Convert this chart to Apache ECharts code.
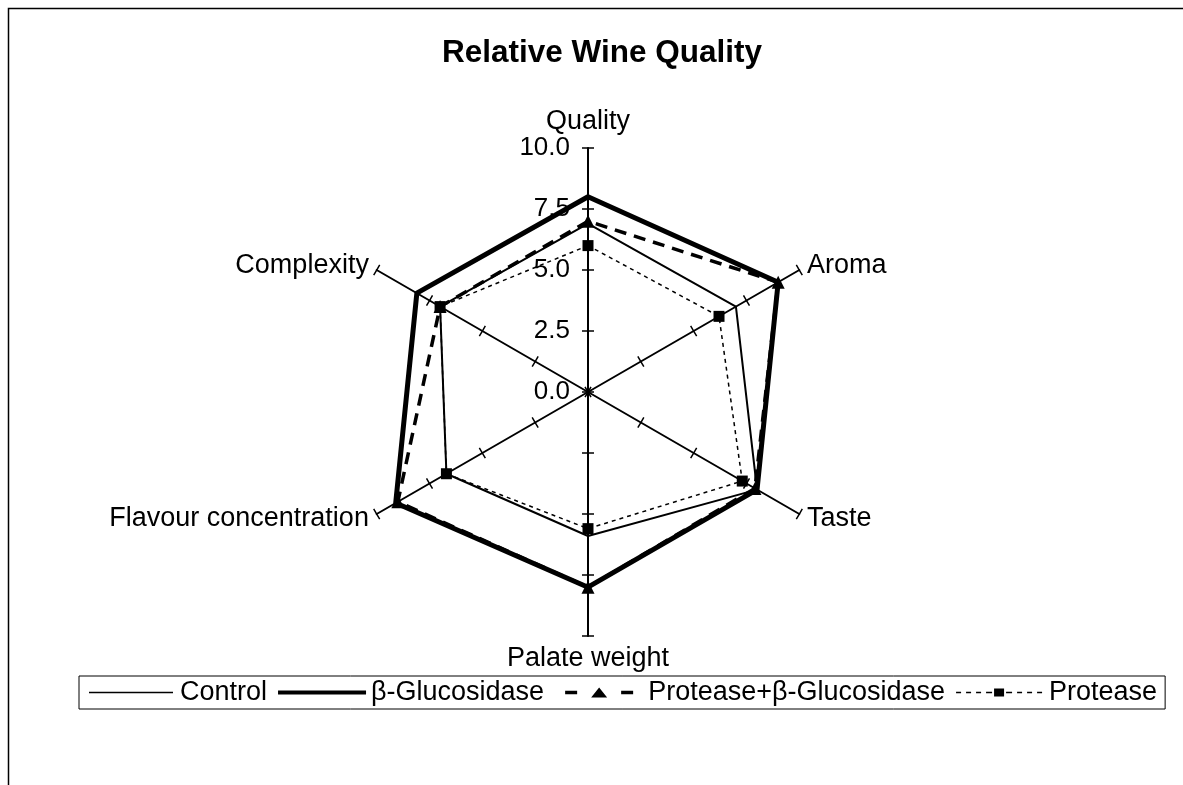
<!DOCTYPE html>
<html>
<head>
<meta charset="utf-8">
<script src="https://cdn.jsdelivr.net/npm/echarts@6/dist/echarts.min.js"></script>
<style>
  html, body { margin: 0; padding: 0; background: #fff; }
  #chart { width: 1183px; height: 785px; }
</style>
</head>
<body>
<div id="chart"></div>
<script>
// axes go counterclockwise from the top
var categories = ['Quality', 'Complexity', 'Flavour concentration', 'Palate weight', 'Taste', 'Aroma'];
var control = [6.9, 7.0, 6.7, 5.9, 8.0, 7.0];
var glucosidase = [8.0, 8.1, 9.1, 8.0, 8.0, 9.0];
var proteaseGlucosidase = [7.0, 7.0, 9.0, 8.0, 7.9, 9.0];
var protease = [6.0, 7.0, 6.7, 5.6, 7.3, 6.2];
var tickValues = [0, 2.5, 5, 7.5, 10];
var tickLabels = ['0.0', '2.5', '5.0', '7.5', '10.0'];

var font = 'Liberation Sans, Arial, sans-serif';
var myChart = echarts.init(document.getElementById('chart'));

// legend icons drawn in an 88x12 box (tiny corner specks fix the box size)
var box = 'M0,0h0.01v0.01h-0.01Z M88,12h-0.01v-0.01h0.01Z ';
var icons = {
  control: 'path://' + box + 'M2,5.3H86V6.7H2Z',
  gluc: 'path://' + box + 'M0,4H88V8H0Z',
  both: 'path://' + box + 'M10,4.3H22V7.7H10Z M36,11L44,1L52,11Z M66,4.3H78V7.7H66Z',
  prot: 'path://' + box + 'M0,5.2H5V6.8H0Z M10,5.2H15V6.8H10Z M20,5.2H25V6.8H20Z M30,5.2H36V6.8H30Z M38,2H48V10H38Z M50,5.2H56V6.8H50Z M61,5.2H66V6.8H61Z M71,5.2H76V6.8H71Z M81,5.2H86V6.8H81Z'
};

function indicators(withLabel) {
  return categories.map(function (c, i) {
    var o = { name: c, min: 0, max: 10 };
    if (withLabel && i === 0) o.axisLabel = { show: true };
    return o;
  });
}

var radarBase = {
  center: [588, 392],
  radius: 244,
  startAngle: 90,
  splitNumber: tickValues.length - 1,
  shape: 'polygon',
  splitLine: { show: false },
  splitArea: { show: false }
};

var option = {
  backgroundColor: '#fff',
  animation: false,
  title: {
    text: 'Relative Wine Quality',
    left: 442,
    top: 37,
    padding: 0,
    textStyle: { fontFamily: font, fontSize: 31.5, fontWeight: 'bold', color: '#000' }
  },
  legend: {
    left: 79,
    top: 676,
    padding: [3, 8],
    itemGap: 11,
    itemWidth: 88,
    itemHeight: 12,
    borderColor: '#000',
    borderWidth: 1,
    textStyle: { fontFamily: font, fontSize: 27, color: '#000' },
    itemStyle: { color: '#000', borderWidth: 0 },
    data: [
      { name: 'Control', icon: icons.control },
      { name: 'β-Glucosidase', icon: icons.gluc },
      { name: 'Protease+β-Glucosidase', icon: icons.both },
      { name: 'Protease', icon: icons.prot }
    ]
  },
  graphic: [{
    type: 'rect',
    shape: { x: 8.5, y: 8.5, width: 1400, height: 900 },
    style: { fill: null, stroke: '#000', lineWidth: 1.5 },
    silent: true
  }],
  radar: [
    Object.assign({}, radarBase, {
      indicator: indicators(true),
      axisName: { color: '#000', fontFamily: font, fontSize: 27 },
      axisNameGap: 9,
      axisLine: { lineStyle: { color: '#000', width: 2 } },
      axisTick: { show: true, length: 6, lineStyle: { color: '#000', width: 1.5 } },
      axisLabel: {
        show: false,
        color: '#000',
        fontFamily: font,
        fontSize: 26,
        margin: 18,
        formatter: function (v) {
          var i = tickValues.indexOf(v);
          return i >= 0 ? tickLabels[i] : '';
        }
      }
    }),
    // second copy only to draw the other half of each crossing tick
    Object.assign({}, radarBase, {
      indicator: indicators(false),
      axisName: { show: false },
      axisLine: { show: false },
      axisTick: { show: true, length: -6, lineStyle: { color: '#000', width: 1.5 } },
      axisLabel: { show: false }
    })
  ],
  series: [
    {
      name: 'Control', type: 'radar', radarIndex: 0, symbol: 'none',
      lineStyle: { color: '#000', width: 2 },
      itemStyle: { color: '#000' },
      data: [{ name: 'Control', value: control }]
    },
    {
      name: 'β-Glucosidase', type: 'radar', radarIndex: 0, symbol: 'none',
      lineStyle: { color: '#000', width: 5 },
      itemStyle: { color: '#000' },
      data: [{ name: 'β-Glucosidase', value: glucosidase }]
    },
    {
      name: 'Protease+β-Glucosidase', type: 'radar', radarIndex: 0,
      symbol: 'triangle', symbolSize: 13,
      lineStyle: { color: '#000', width: 3.5, type: [12, 8] },
      itemStyle: { color: '#000' },
      data: [{ name: 'Protease+β-Glucosidase', value: proteaseGlucosidase }]
    },
    {
      name: 'Protease', type: 'radar', radarIndex: 0,
      symbol: 'rect', symbolSize: 11,
      lineStyle: { color: '#000', width: 1.5, type: [4, 4] },
      itemStyle: { color: '#000' },
      data: [{ name: 'Protease', value: protease }]
    }
  ]
};

myChart.setOption(option);
</script>
</body>
</html>
